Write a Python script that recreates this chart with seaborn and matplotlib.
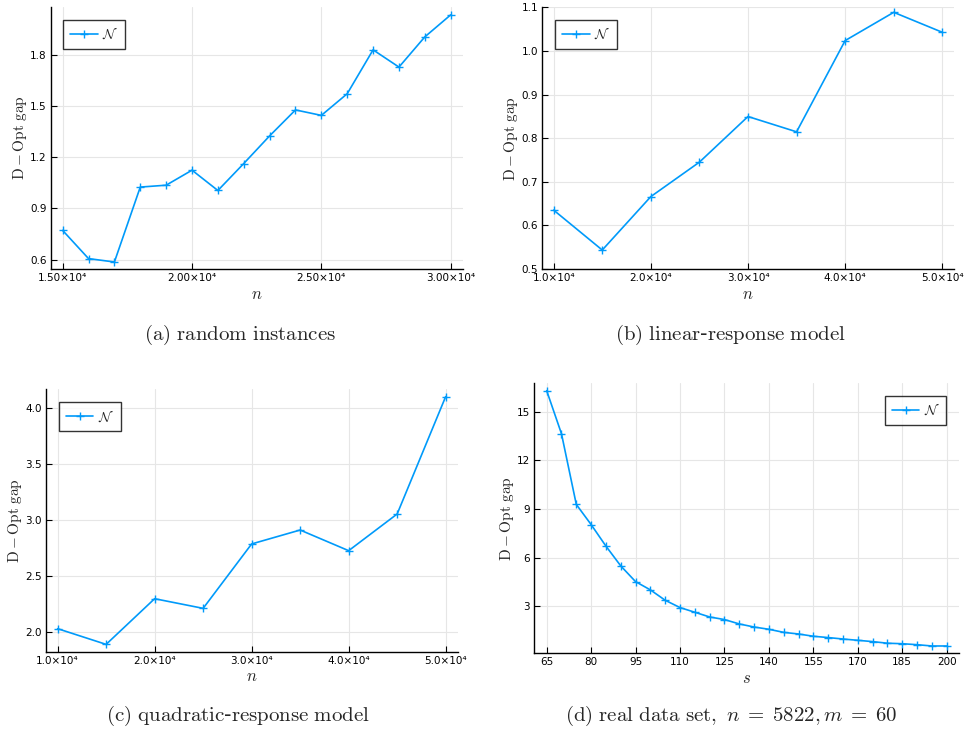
import numpy as np
import pandas as pd
import seaborn as sns
import matplotlib.pyplot as plt
from matplotlib.ticker import FuncFormatter, FixedLocator

# --- data ---
n_random = [15000, 16000, 17000, 18000, 19000, 20000, 21000, 22000,
            23000, 24000, 25000, 26000, 27000, 28000, 29000, 30000]
gap_random = [0.771, 0.606, 0.586, 1.025, 1.036, 1.124, 1.005, 1.163,
              1.325, 1.477, 1.445, 1.572, 1.829, 1.728, 1.905, 2.034]

n_model = [10000, 15000, 20000, 25000, 30000, 35000, 40000, 45000, 50000]
gap_linear = [0.635, 0.5435, 0.666, 0.745, 0.8496, 0.8145, 1.0237, 1.0885, 1.0427]
gap_quad = [2.033, 1.893, 2.300, 2.214, 2.788, 2.912, 2.728, 3.055, 4.101]

s_real = [65, 70, 75, 80, 85, 90, 95, 100, 105, 110, 115, 120, 125, 130,
          135, 140, 145, 150, 155, 160, 165, 170, 175, 180, 185, 190, 195, 200]
gap_real = [16.30, 13.64, 9.28, 8.04, 6.71, 5.49, 4.52, 4.01, 3.37, 2.92,
            2.63, 2.34, 2.18, 1.91, 1.72, 1.58, 1.39, 1.29, 1.15, 1.07,
            0.98, 0.90, 0.82, 0.72, 0.69, 0.63, 0.55, 0.55]

captions = [r"$\mathrm{(a)\ random\ instances}$",
            r"$\mathrm{(b)\ linear}$-$\mathrm{response\ model}$",
            r"$\mathrm{(c)\ quadratic}$-$\mathrm{response\ model}$",
            r"$\mathrm{(d)\ real\ data\ set,}\ n\;=\;5822, m\;=\;60$"]

sns.set_style("ticks")
plt.rcParams['mathtext.fontset'] = 'cm'
plt.rcParams['font.family'] = ['DejaVu Sans']
julia_blue = "#009AFA"


def sci_fmt(decimals):
    def f(v, pos):
        return f"{v / 1e4:.{decimals}f}×10⁴"
    return FuncFormatter(f)


def draw(ax, x, y, xlabel, xlim, ylim, xticks, yticks, xfmt, yfmt, legend_loc):
    df = pd.DataFrame({'x': x, 'y': y})
    sns.lineplot(data=df, x='x', y='y', ax=ax, color=julia_blue, lw=1.2,
                 marker='+', markersize=6, markeredgewidth=1.0,
                 markeredgecolor=julia_blue, label=r"$\mathcal{N}$")
    ax.set_xlim(*xlim)
    ax.set_ylim(*ylim)
    ax.xaxis.set_major_locator(FixedLocator(xticks))
    ax.yaxis.set_major_locator(FixedLocator(yticks))
    if xfmt is not None:
        ax.xaxis.set_major_formatter(xfmt)
    ax.yaxis.set_major_formatter(yfmt)
    ax.grid(True, color="#e6e6e6", lw=0.8)
    ax.set_axisbelow(True)
    for side in ['top', 'right']:
        ax.spines[side].set_visible(False)
    for side in ['left', 'bottom']:
        ax.spines[side].set_color('black')
        ax.spines[side].set_linewidth(1.0)
    ax.tick_params(direction='in', length=4, width=0.8, labelsize=7.5,
                   colors='black', pad=3)
    ax.set_xlabel(xlabel, fontsize=12, labelpad=1)
    ax.set_ylabel(r"$\mathrm{D-Opt\ gap}$", fontsize=11, labelpad=1)
    leg = ax.legend(loc=legend_loc, fontsize=10, frameon=True, fancybox=False,
                    handlelength=2.0, borderaxespad=0.9, borderpad=0.5,
                    handletextpad=0.3)
    leg.get_frame().set_edgecolor('black')
    leg.get_frame().set_linewidth(1.0)


fig = plt.figure(figsize=(9.64, 7.30), dpi=100)

ax_a = fig.add_axes([0.0529, 0.6315, 0.4274, 0.3589])
draw(ax_a, n_random, gap_random, r"$n$", (14549, 30476), (0.545, 2.08),
     [15000, 20000, 25000, 30000], [0.6, 0.9, 1.2, 1.5, 1.8],
     sci_fmt(2), FuncFormatter(lambda v, p: f"{v:.1f}"), 'upper left')

ax_b = fig.add_axes([0.5626, 0.6315, 0.4270, 0.3585])
draw(ax_b, n_model, gap_linear, r"$n$", (8835, 51200), (0.5, 1.1),
     [10000, 20000, 30000, 40000, 50000], [0.5, 0.6, 0.7, 0.8, 0.9, 1.0, 1.1],
     sci_fmt(1), FuncFormatter(lambda v, p: f"{v:.1f}"), 'upper left')

ax_c = fig.add_axes([0.0480, 0.1073, 0.4271, 0.3594])
draw(ax_c, n_model, gap_quad, r"$n$", (8833, 51270), (1.828, 4.166),
     [10000, 20000, 30000, 40000, 50000], [2.0, 2.5, 3.0, 3.5, 4.0],
     sci_fmt(1), FuncFormatter(lambda v, p: f"{v:.1f}"), 'upper left')

ax_d = fig.add_axes([0.5543, 0.1051, 0.4405, 0.3702])
draw(ax_d, s_real, gap_real, r"$s$", (60.84, 204.16), (0.1, 16.77),
     list(range(65, 201, 15)), [3, 6, 9, 12, 15],
     None, FuncFormatter(lambda v, p: f"{v:.0f}"), 'upper right')

fig.text(240 / 964, 1 - 335 / 730, captions[0], ha='center', va='center', fontsize=15)
fig.text(730 / 964, 1 - 335 / 730, captions[1], ha='center', va='center', fontsize=15)
fig.text(238 / 964, 1 - 716 / 730, captions[2], ha='center', va='center', fontsize=15)
fig.text(731 / 964, 1 - 716 / 730, captions[3], ha='center', va='center', fontsize=15)

fig.savefig("out.png", dpi=100)
